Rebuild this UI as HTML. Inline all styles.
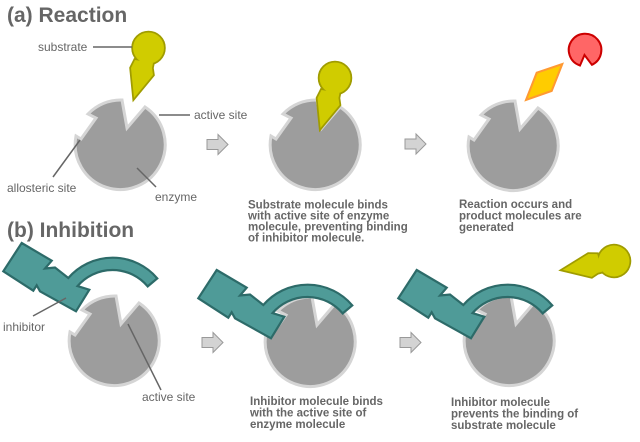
<!DOCTYPE html>
<html><head><meta charset="utf-8"><style>
html,body{margin:0;padding:0;background:#fff;}
svg{display:block;}
text{font-family:"Liberation Sans",Arial,sans-serif;fill:#666;}
.t{font-size:21px;font-weight:bold;}
.l{font-size:12px;}
.c{font-size:11.5px;font-weight:bold;}
</style></head><body>
<svg width="640" height="442" viewBox="0 0 640 442" xmlns="http://www.w3.org/2000/svg">
<defs>
<path id="enz" d="M6 -17 L24 -38 A45 45 0 1 1 -45 -9 L-40 -6 L-25 -27 L-33 -31 A45 45 0 0 1 1 -45 Z" fill="#9d9d9d" stroke="#d5d5d5" stroke-width="3" stroke-linejoin="miter"/>
<path id="arr" d="M0 -5 L11 -5 L11 -10 L21 0 L11 10 L11 5 L0 5 Z" fill="#d3d3d3" stroke="#999" stroke-width="1"/>
<g id="sub">
<polygon points="-13.5,12 -17.5,20 -14.5,50 4.5,27 3.5,20 4.5,15" fill="#d0cc00" stroke="#a09c00" stroke-width="3.5" stroke-linejoin="miter"/>
<circle cx="0" cy="0" r="15.5" fill="#d0cc00" stroke="#a09c00" stroke-width="3.5"/>
<polygon points="-13.5,12 -17.5,20 -14.5,50 4.5,27 3.5,20 4.5,15" fill="#d0cc00"/>
<circle cx="0" cy="0" r="15.5" fill="#d0cc00"/>
</g>
<path id="inh" d="M21.7 243 L51.7 260.7 L45 268.5 L55 267.5 L68.3 278 A58.5 58.5 0 0 1 157.3 278.4 L147.7 286.4 A46 46 0 0 0 77.5 286.1 L89.3 289.7 L76 311.3 L40 291.3 L36.7 285.3 L33.3 290.7 L3.3 271.3 Z" fill="#4f9b98" stroke="#2d6b69" stroke-width="2.2" stroke-linejoin="miter"/>
</defs>

<!-- titles -->
<text class="t" x="7" y="22">(a) Reaction</text>
<text class="t" x="7" y="237">(b) Inhibition</text>

<!-- Row a -->
<use href="#enz" transform="translate(121,145)"/>
<use href="#sub" transform="translate(148.5,48)"/>

<line x1="93" y1="47" x2="132" y2="47" stroke="#666" stroke-width="1.5"/>
<text class="l" x="38" y="51">substrate</text>
<line x1="159" y1="115" x2="190" y2="115" stroke="#666" stroke-width="1.5"/>
<text class="l" x="194" y="119">active site</text>
<line x1="53" y1="177" x2="80" y2="140" stroke="#666" stroke-width="1.5"/>
<text class="l" x="7" y="192">allosteric site</text>
<line x1="137" y1="168" x2="156" y2="187" stroke="#666" stroke-width="1.5"/>
<text class="l" x="155" y="201">enzyme</text>

<use href="#arr" transform="translate(207,144.5)"/>

<use href="#enz" transform="translate(316,145)"/>
<use href="#sub" transform="translate(335,78)"/>

<text class="c" x="248" y="208.5">Substrate molecule binds</text>
<text class="c" x="248" y="219.5">with active site of enzyme</text>
<text class="c" x="248" y="230.5">molecule, preventing binding</text>
<text class="c" x="248" y="241.5">of inhibitor molecule.</text>

<use href="#arr" transform="translate(405,144)"/>

<use href="#enz" transform="translate(514,146)"/>
<polygon points="536.7,72.7 562.3,64 551.7,91 526,100" fill="#ffcc00" stroke="#ff9933" stroke-width="2" stroke-linejoin="miter"/>
<path d="M580 65.5 L584.5 55 L591.9 64.8 A16.3 16.3 0 1 0 580 65.5 Z" fill="#ff6666" stroke="#cc0000" stroke-width="2"/>

<text class="c" x="459" y="208">Reaction occurs and</text>
<text class="c" x="459" y="219.5">product molecules are</text>
<text class="c" x="459" y="231">generated</text>

<!-- Row b -->
<use href="#enz" transform="translate(115,341)"/>
<use href="#inh"/>
<line x1="33" y1="316" x2="66" y2="298" stroke="#666" stroke-width="1.5"/>
<text class="l" x="3" y="331">inhibitor</text>
<line x1="128" y1="324" x2="161" y2="390" stroke="#666" stroke-width="1.5"/>
<text class="l" x="142" y="401">active site</text>

<use href="#arr" transform="translate(202,342.5)"/>

<use href="#enz" transform="translate(311,342)"/>
<use href="#inh" transform="translate(195,27)"/>

<text class="c" x="250" y="405">Inhibitor molecule binds</text>
<text class="c" x="250" y="416.5">with the active site of</text>
<text class="c" x="250" y="428">enzyme molecule</text>

<use href="#arr" transform="translate(400,342.5)"/>

<use href="#enz" transform="translate(510,341)"/>
<use href="#inh" transform="translate(395,27)"/>
<use href="#sub" transform="translate(614,261) rotate(64)"/>

<text class="c" x="451" y="406">Inhibitor molecule</text>
<text class="c" x="451" y="417.5">prevents the binding of</text>
<text class="c" x="451" y="429">substrate molecule</text>
</svg>
</body></html>
